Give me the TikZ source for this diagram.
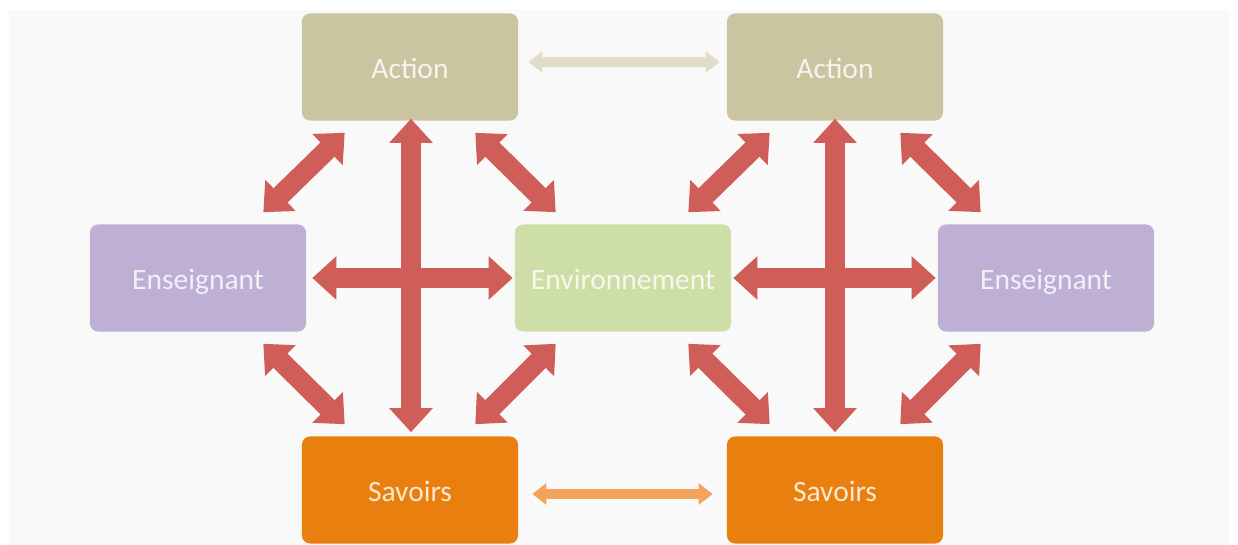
\documentclass[tikz,border=0pt]{standalone}
\usepackage{fontspec}
\setmainfont{Carlito}
\usetikzlibrary{arrows.meta}

\definecolor{actcol}{HTML}{CBC4A1}
\definecolor{enscol}{HTML}{BEB0D4}
\definecolor{envcol}{HTML}{CEDEA7}
\definecolor{savcol}{HTML}{E97F0E}
\definecolor{redarr}{HTML}{CF5E58}
\definecolor{toparr}{HTML}{DFDDC9}
\definecolor{botarr}{HTML}{F4A35D}
\definecolor{bgcol}{HTML}{F9F9F9}

\tikzset{
  box/.style={rounded corners=0.2cm, minimum width=5.4cm, minimum height=2.675cm,
    inner sep=0pt, text height=16pt, text depth=0pt, font=\fontsize{21}{25}\selectfont},
  bigarrow/.style={line width=0.5cm, redarr,
    {Triangle[width=1.05cm,length=0.6cm]}-{Triangle[width=1.05cm,length=0.6cm]}},
  smallarrow/.style={line width=0.26cm,
    {Triangle[width=0.52cm,length=0.35cm]}-{Triangle[width=0.52cm,length=0.35cm]}}
}

\begin{document}
\begin{tikzpicture}[x=0.025cm, y=0.025cm]
  \useasboundingbox (0,0) rectangle (1238,-545);
  \fill[bgcol] (9,-10) rectangle (1229,-545);

  \node[box, fill=actcol, text=white!82!actcol] (actL) at (410,-67) {Action};
  \node[box, fill=actcol, text=white!82!actcol] (actR) at (835,-67) {Action};
  \node[box, fill=enscol, text=white!80!enscol] (ensL) at (198,-278) {Enseignant};
  \node[box, fill=envcol, text=white!80!envcol] (env) at (623,-278) {Environnement};
  \node[box, fill=enscol, text=white!80!enscol] (ensR) at (1046,-278) {Enseignant};
  \node[box, fill=savcol, text=white!82!savcol] (savL) at (410,-490) {Savoirs};
  \node[box, fill=savcol, text=white!82!savcol] (savR) at (835,-490) {Savoirs};

  % between the two halves
  \draw[smallarrow, toparr] ([shift={(10,5)}]actL.east) -- ([shift={(-7,5)}]actR.west);
  \draw[smallarrow, botarr] ([shift={(14,-4)}]savL.east) -- ([shift={(-14,-4)}]savR.west);

  % left half
  \draw[bigarrow] ([shift={(6,0)}]ensL.east) -- ([shift={(-2,0)}]env.west);
  \draw[bigarrow] ([shift={(1,2)}]actL.south) -- ([shift={(1,4)}]savL.north);
  \draw[bigarrow] ([shift={(43,-12)}]actL.south west) -- ([shift={(-43,12)}]ensL.north east);
  \draw[bigarrow] ([shift={(-43,-12)}]actL.south east) -- ([shift={(41,12)}]env.north west);
  \draw[bigarrow] ([shift={(-43,-12)}]ensL.south east) -- ([shift={(43,12)}]savL.north west);
  \draw[bigarrow] ([shift={(41,-12)}]env.south west) -- ([shift={(-43,12)}]savL.north east);

  % right half
  \draw[bigarrow] ([shift={(2,0)}]env.east) -- ([shift={(-2,0)}]ensR.west);
  \draw[bigarrow] ([shift={(0,2)}]actR.south) -- ([shift={(0,4)}]savR.north);
  \draw[bigarrow] ([shift={(43,-12)}]actR.south west) -- ([shift={(-43,12)}]env.north east);
  \draw[bigarrow] ([shift={(-43,-12)}]actR.south east) -- ([shift={(43,12)}]ensR.north west);
  \draw[bigarrow] ([shift={(-43,-12)}]env.south east) -- ([shift={(43,12)}]savR.north west);
  \draw[bigarrow] ([shift={(43,-12)}]ensR.south west) -- ([shift={(-43,12)}]savR.north east);
\end{tikzpicture}
\end{document}
